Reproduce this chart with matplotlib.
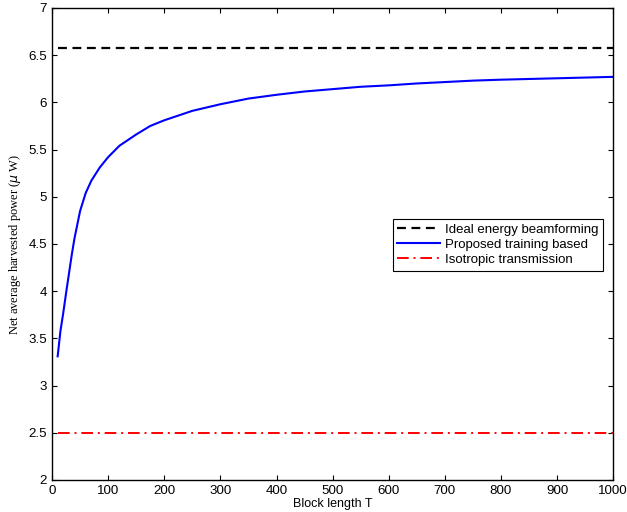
import numpy as np
import matplotlib.pyplot as plt

# values
block_len = [10, 15, 20, 25, 30, 35, 40, 50, 60, 70, 85, 100, 120, 150, 175,
             200, 250, 300, 350, 400, 450, 500, 550, 600, 650, 700, 750, 800,
             900, 1000]
proposed = [3.31, 3.58, 3.77, 3.98, 4.18, 4.38, 4.56, 4.85, 5.04, 5.17, 5.31,
            5.42, 5.54, 5.66, 5.75, 5.81, 5.91, 5.98, 6.04, 6.08, 6.115, 6.14,
            6.165, 6.18, 6.20, 6.215, 6.23, 6.24, 6.255, 6.27]
ideal_level = 6.58
isotropic_level = 2.5
x_range = [10, 1000]

plt.rcParams['font.family'] = ['Liberation Sans', 'DejaVu Sans']

fig = plt.figure(figsize=(6.27, 5.12), dpi=100)
ax = fig.add_axes([0.083, 0.0625, 0.895, 0.922])

ax.plot(x_range, [ideal_level] * 2, color='k', linestyle=(0, (4, 2.5)), lw=1.6,
        label='Ideal energy beamforming')
ax.plot(block_len, proposed, color='b', lw=1.5, label='Proposed training based',
        solid_joinstyle='round')
ax.plot(x_range, [isotropic_level] * 2, color='r', linestyle=(0, (6, 2.5, 1, 2.5)),
        lw=1.4, label='Isotropic transmission')

ax.set_xlim(0, 1000)
ax.set_ylim(2, 7)
ax.set_xticks(np.arange(0, 1001, 100))
ax.set_yticks(np.arange(2, 7.01, 0.5))
ax.set_yticklabels(['2', '2.5', '3', '3.5', '4', '4.5', '5', '5.5', '6', '6.5', '7'])
ax.tick_params(direction='in', top=True, right=True, labelsize=9.6, length=3.6)
for s in ax.spines.values():
    s.set_linewidth(1.0)

ax.set_xlabel('Block length T', fontsize=9, labelpad=1)
ax.set_ylabel(r'Net average harvested power ($\mu$ W)', fontsize=9,
              family=['Liberation Serif', 'DejaVu Serif'])

leg = ax.legend(loc='upper left', bbox_to_anchor=(0.607, 0.553), fontsize=9.5,
                handlelength=3.2, handletextpad=0.4, borderpad=0.35,
                labelspacing=0.22, fancybox=False, framealpha=1,
                edgecolor='k', borderaxespad=0)
leg.get_frame().set_linewidth(0.8)

fig.savefig('out.png', dpi=100)
